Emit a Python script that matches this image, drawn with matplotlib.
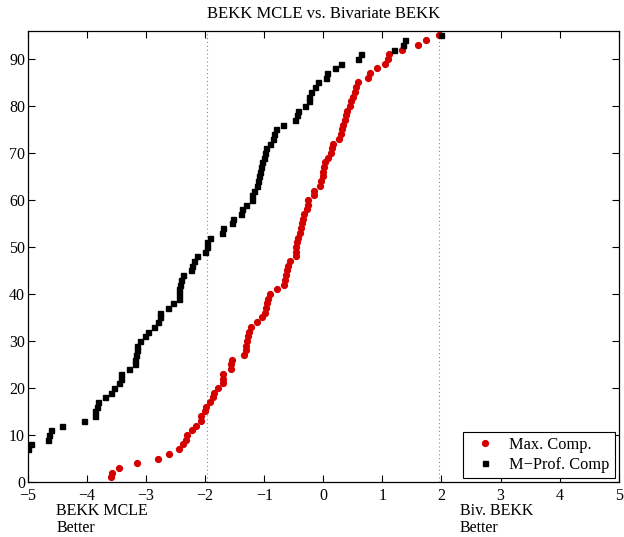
import matplotlib
matplotlib.use("Agg")
import matplotlib.pyplot as plt
import matplotlib.transforms as mtransforms

plt.rcParams['font.family'] = ['Liberation Serif', 'DejaVu Serif']
plt.rcParams['mathtext.fontset'] = 'stix'

title = "BEKK MCLE vs. Bivariate BEKK"
label_red = "Max. Comp."
label_black = "M\u2212Prof. Comp"

# Max. Comp. : sorted statistics, ranks 1..95
red_rank = list(range(1, 96))
red_x = [-3.59, -3.57, -3.46, -3.16, -2.79, -2.61, -2.44, -2.37, -2.33, -2.31,
         -2.22, -2.15, -2.07, -2.07, -2.00, -1.98, -1.92, -1.86, -1.85, -1.78,
         -1.70, -1.69, -1.69, -1.57, -1.57, -1.54, -1.34, -1.30, -1.30, -1.29,
         -1.27, -1.26, -1.23, -1.13, -1.03, -0.98, -0.97, -0.95, -0.93, -0.90,
         -0.78, -0.66, -0.65, -0.63, -0.62, -0.60, -0.56, -0.47, -0.47, -0.46,
         -0.45, -0.42, -0.40, -0.37, -0.36, -0.34, -0.33, -0.28, -0.26, -0.26,
         -0.16, -0.15, -0.06, -0.04, -0.01, -0.01, 0.02, 0.03, 0.08, 0.13,
         0.14, 0.16, 0.27, 0.30, 0.32, 0.34, 0.36, 0.38, 0.40, 0.46,
         0.47, 0.50, 0.54, 0.56, 0.58, 0.75, 0.79, 0.91, 1.04, 1.09,
         1.12, 1.34, 1.61, 1.73, 1.95]

# M-Prof. Comp : visible ranks 7..95 (ranks 1..6 lie left of -5)
black_rank = list(range(7, 96))
black_x = [-4.99, -4.95, -4.66, -4.65, -4.61, -4.43, -4.05, -3.87, -3.86, -3.83,
           -3.82, -3.70, -3.60, -3.55, -3.45, -3.43, -3.42, -3.28, -3.19, -3.19,
           -3.17, -3.16, -3.15, -3.10, -3.01, -2.97, -2.86, -2.80, -2.77, -2.76,
           -2.62, -2.54, -2.45, -2.45, -2.44, -2.42, -2.41, -2.37, -2.24, -2.22,
           -2.19, -2.13, -2.00, -1.97, -1.96, -1.92, -1.71, -1.69, -1.55, -1.52,
           -1.40, -1.38, -1.31, -1.21, -1.21, -1.17, -1.12, -1.10, -1.08, -1.07,
           -1.06, -1.03, -1.01, -0.99, -0.97, -0.90, -0.85, -0.84, -0.80, -0.69,
           -0.48, -0.45, -0.43, -0.31, -0.24, -0.24, -0.21, -0.14, -0.09, 0.04,
           0.06, 0.19, 0.30, 0.59, 0.63, 1.20, 1.35, 1.38, 2.00]

crit = [-1.96, 1.96]
xticks = [-5, -4, -3, -2, -1, 0, 1, 2, 3, 4, 5]
yticks = [0, 10, 20, 30, 40, 50, 60, 70, 80, 90]
left_note = "BEKK MCLE\nBetter"
right_note = "Biv. BEKK\nBetter"
left_note_x = -4.52
right_note_x = 2.31

fig = plt.figure(figsize=(6.24, 5.37), dpi=100)
ax = fig.add_axes([0.0446, 0.1024, 0.947, 0.8404])

for c in crit:
    ax.axvline(c, color='#888888', linestyle=(0, (1, 2.5)), linewidth=0.8, zorder=1)

ax.plot(red_x, red_rank, linestyle='none', marker='o', markersize=4.2,
        color='#d40000', markeredgecolor='#d40000', label=label_red, zorder=3)
ax.plot(black_x, black_rank, linestyle='none', marker='s', markersize=3.6,
        color='black', label=label_black, zorder=3)

ax.set_xlim(-5, 5)
ax.set_ylim(0, 96)
ax.set_xticks(xticks)
ax.set_yticks(yticks)
ax.set_xticklabels([str(t).replace('-', '\u2212') for t in xticks])
ax.tick_params(direction='in', top=True, right=True, length=5, width=0.8,
               labelsize=11.5, pad=2)
ax.tick_params(axis='x', pad=4)
for s in ax.spines.values():
    s.set_linewidth(0.9)

ax.set_title(title, fontsize=12, pad=9)

trans = mtransforms.blended_transform_factory(ax.transData, ax.transAxes)
ax.text(left_note_x, -0.046, left_note, transform=trans, ha='left', va='top',
        fontsize=11.5, linespacing=1.1)
ax.text(right_note_x, -0.046, right_note, transform=trans, ha='left', va='top',
        fontsize=11.5, linespacing=1.1)

leg = ax.legend(loc='lower right', fontsize=11.8, frameon=True, fancybox=False,
                edgecolor='black', framealpha=1, borderaxespad=0.25,
                handlelength=2.0, handletextpad=0.5, borderpad=0.3,
                labelspacing=0.25, numpoints=1)
leg.get_frame().set_linewidth(0.8)

fig.savefig("out.png", dpi=100)
